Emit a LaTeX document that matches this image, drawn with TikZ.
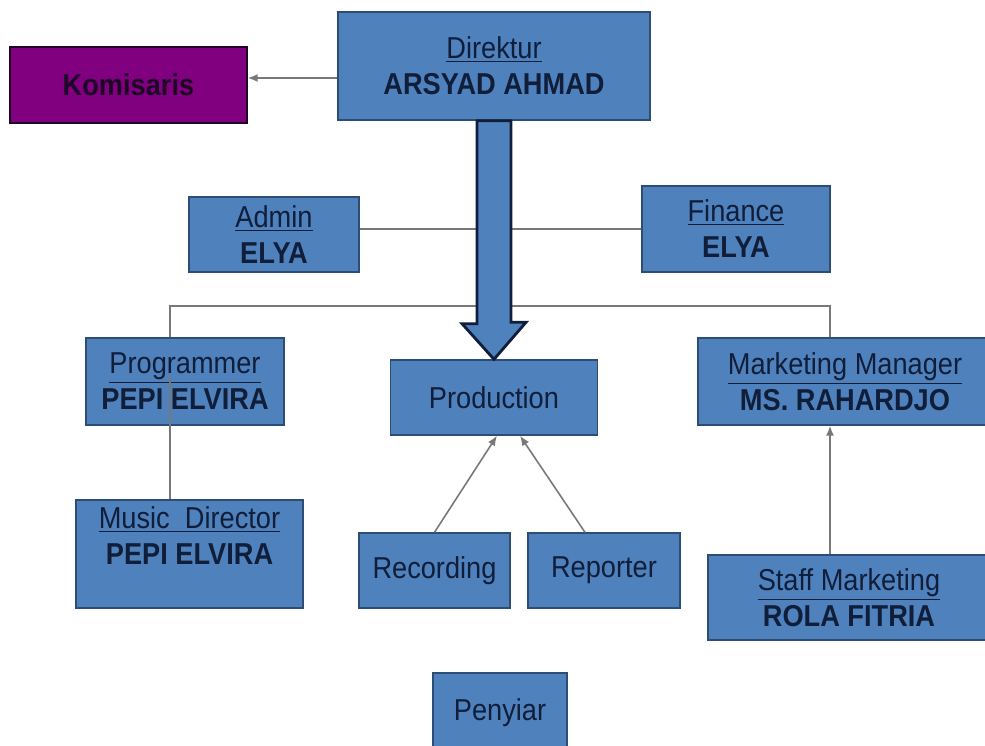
\documentclass[tikz,border=0pt]{standalone}
\usepackage{fontspec}
\setmainfont{Liberation Sans}[FakeStretch=0.9]
\usetikzlibrary{arrows.meta}

\definecolor{boxblue}{RGB}{79,129,189}
\definecolor{boxline}{RGB}{44,77,117}
\definecolor{inkblue}{RGB}{16,30,58}
\definecolor{plum}{RGB}{128,0,128}
\definecolor{plumink}{RGB}{30,6,38}
\definecolor{linkgray}{RGB}{120,120,120}

\tikzset{
  box/.style={draw=boxline, line width=0.8pt, fill=boxblue, text=inkblue,
    align=center, inner sep=0pt, font=\fontsize{17.2}{20.5}\selectfont},
  link/.style={draw=linkgray, line width=0.9pt},
  tip/.style={link, -{Latex[length=2mm,width=1.6mm]}},
  bigarrow/.style={draw=inkblue, line width=1.6pt, fill=boxblue, line join=miter},
}
\newcommand{\post}[2]{\underline{#1}\\\textbf{#2}}

\begin{document}
\begin{tikzpicture}[x=0.02cm, y=-0.02cm]
  \useasboundingbox (0,0) rectangle (985,746);
  \clip (0,0) rectangle (985,746);

  \node[box, minimum width=6.24cm, minimum height=2.16cm] (dir) at (494,66) {\post{Direktur}{ARSYAD AHMAD}};
  \node[box, fill=plum, draw=plumink, text=plumink, minimum width=4.74cm, minimum height=1.52cm] (kom) at (128.5,85) {\textbf{Komisaris}};
  \node[box, minimum width=3.4cm, minimum height=1.5cm] (admin) at (274,234.5) {\post{Admin}{ELYA}};
  \node[box, minimum width=3.76cm, minimum height=1.72cm] (fin) at (736,229) {\post{Finance}{ELYA}};
  \node[box, minimum width=3.96cm, minimum height=1.74cm] (prog) at (185,381.5) {\post{Programmer}{PEPI ELVIRA}};
  \node[box, minimum width=4.14cm, minimum height=1.5cm] (prod) at (494,397.5) {Production};
  \node[box, minimum width=5.88cm, minimum height=1.74cm] (mm) at (845,381.5) {\post{Marketing Manager}{MS. RAHARDJO}};
  \node[box, minimum width=4.54cm, minimum height=2.16cm] (md) at (189.5,554) {\post{Music\ \ Director}{PEPI ELVIRA}\\\mbox{}};
  \node[box, minimum width=3.02cm, minimum height=1.5cm] (rec) at (434.5,570.5) {Recording};
  \node[box, minimum width=3.04cm, minimum height=1.5cm] (rep) at (604,570.5) {Reporter};
  \node[box, minimum width=5.64cm, minimum height=1.7cm] (sm) at (849,597.5) {\post{Staff Marketing}{ROLA FITRIA}};
  \node[box, minimum width=2.68cm, minimum height=1.6cm] (pen) at (500,713) {Penyiar};

  \coordinate (pl) at (170,306);
  \coordinate (pr) at (830,306);
  \coordinate (pm) at (170,376);

  \draw[tip] ([yshift=-2.4mm]dir.west) -- ([yshift=-2.4mm]dir.west -| kom.east);
  \draw[link] (fin.west -| admin.east) -- (fin.west);
  \draw[link] (prog.north -| pl) -- (pl) -- (pr) -- (mm.north -| pr);
  \draw[link] (md.north -| pm) -- (pm);
  \draw[tip] (rec.north) -- ([xshift=0.06cm]prod.south);
  \draw[tip] ([xshift=-0.38cm]rep.north) -- ([xshift=0.52cm]prod.south);
  \draw[tip] (sm.north -| pr) -- (mm.south -| pr);

  % big arrow down to production
  \draw[bigarrow] ([xshift=-0.34cm]dir.south) -- ++(0,203) -- ++(-15,0) -- (prod.north)
    -- ++(32,-37) -- ++(-15,0) -- ([xshift=0.34cm]dir.south) -- cycle;
\end{tikzpicture}
\end{document}
